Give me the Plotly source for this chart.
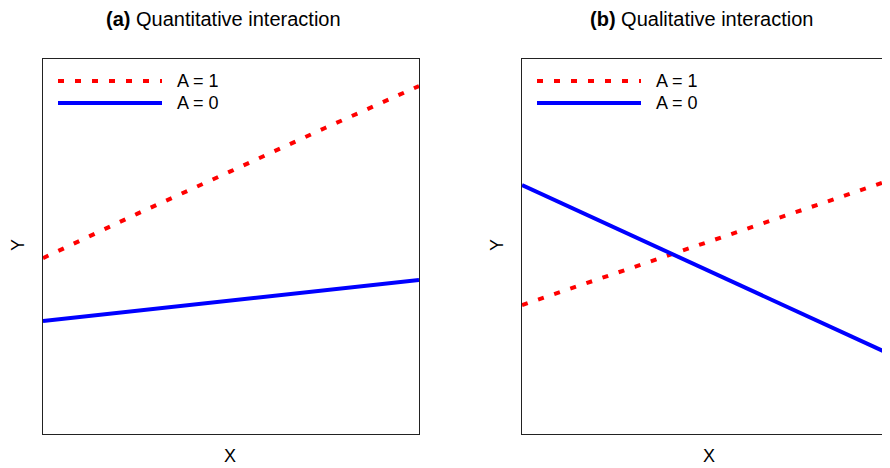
import plotly.graph_objects as go

# ---- data ----
x_pts = [0, 0.25, 0.5, 0.75, 1.0]
a_y1 = [4.69, 5.87, 7.01, 8.16, 9.28]      # panel (a), A = 1
a_y0 = [3.01, 3.28, 3.56, 3.84, 4.11]      # panel (a), A = 0
b_x = [0, 1.0]
b_y1 = [3.44, 6.84]                        # panel (b), A = 1
b_y0 = [6.64, 2.03]                        # panel (b), A = 0
series_names = ["A = 1", "A = 0"]
series_colors = ["#ff0000", "#0000ff"]
panel_titles = ["<b>(a)</b> Quantitative interaction", "<b>(b)</b> Qualitative interaction"]

OFF = 8                      # page body margin offset
W, H = 890 - OFF, 468 - OFF
TOP, BOT = 59 - OFF, 434 - OFF
FONT = "Liberation Sans, Arial, Helvetica, sans-serif"

def px_x(p):
    return (p - OFF) / W

def px_y(p):
    return (BOT - (p - OFF)) / (BOT - TOP)

panels = [(43, 419), (522, 890)]   # reference pixel extents of plot areas (b is cropped at right)
full_w = 376

fig = go.Figure()
dash = "6px,11px"
fig.add_trace(go.Scatter(x=x_pts, y=a_y1, mode="lines", line=dict(color=series_colors[0], width=4, dash=dash),
                         xaxis="x", yaxis="y", showlegend=False))
fig.add_trace(go.Scatter(x=x_pts, y=a_y0, mode="lines", line=dict(color=series_colors[1], width=4),
                         xaxis="x", yaxis="y", showlegend=False))
fig.add_trace(go.Scatter(x=b_x, y=b_y1, mode="lines", line=dict(color=series_colors[0], width=4, dash=dash),
                         xaxis="x2", yaxis="y2", showlegend=False))
fig.add_trace(go.Scatter(x=b_x, y=b_y0, mode="lines", line=dict(color=series_colors[1], width=4),
                         xaxis="x2", yaxis="y2", showlegend=False))

axcommon = dict(showgrid=False, zeroline=False, showticklabels=False, ticks="",
                showline=True, linecolor="#222222", linewidth=1)
fig.update_layout(
    width=W, height=H,
    margin=dict(l=0, r=0, t=TOP, b=H - BOT, pad=0),
    paper_bgcolor="white", plot_bgcolor="white",
    showlegend=False,
    font=dict(family=FONT, color="black"),
    xaxis=dict(domain=[px_x(panels[0][0]), px_x(panels[0][1])], range=[0, 1], mirror=True, **axcommon),
    yaxis=dict(domain=[0, 1], range=[0, 10], mirror=True, **axcommon),
    xaxis2=dict(domain=[px_x(panels[1][0]), 1], anchor="y2",
                range=[0, (panels[1][1] - panels[1][0]) / full_w], mirror=True, **axcommon),
    yaxis2=dict(domain=[0, 1], anchor="x2", range=[0, 10], mirror=False, **axcommon),
)

annotations = []
shapes = []
title_cx = [223, 701]
xlab_cx = [230, 709]
ylab_cx = [18, 497]
for i, (l, r) in enumerate(panels):
    annotations.append(dict(text=panel_titles[i], x=px_x(title_cx[i]), y=px_y(19), xref="paper", yref="paper",
                            showarrow=False, xanchor="center", yanchor="middle", font=dict(size=20)))
    annotations.append(dict(text="X", x=px_x(xlab_cx[i]), y=px_y(456), xref="paper", yref="paper",
                            showarrow=False, xanchor="center", yanchor="middle", font=dict(size=18)))
    annotations.append(dict(text="Y", x=px_x(ylab_cx[i]), y=px_y(245), xref="paper", yref="paper",
                            showarrow=False, xanchor="center", yanchor="middle", textangle=-90,
                            font=dict(size=18)))
    # legend drawn as lines + labels
    for k, name in enumerate(series_names):
        ly = 81 + 22 * k
        shapes.append(dict(type="line", xref="paper", yref="paper",
                           x0=px_x(l + 15), x1=px_x(l + 119), y0=px_y(ly), y1=px_y(ly),
                           line=dict(color=series_colors[k], width=4, dash=(dash if k == 0 else "solid"))))
        annotations.append(dict(text=name, x=px_x(l + 132), y=px_y(ly), xref="paper", yref="paper",
                                showarrow=False, xanchor="left", yanchor="middle", font=dict(size=18)))

fig.update_layout(annotations=annotations, shapes=shapes)
fig.write_html("out.html")
